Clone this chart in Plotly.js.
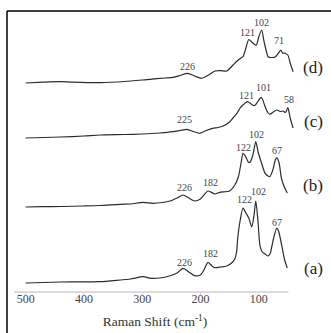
<!DOCTYPE html>
<html>
<head>
<meta charset="utf-8">
<script src="https://cdn.plot.ly/plotly-3.0.1.min.js"></script>
<style>
html,body{margin:0;padding:0;background:#fff;}
#chart{width:331px;height:333px;}
</style>
</head>
<body>
<div id="chart"></div>
<script>
// Raman shift (cm-1) and relative intensity for each spectrum
const shiftA = [500,470,440,400,372,338,320,298,285,270,252,240,230,220,210,200,194,187,180,176,165,155,147,141,138,136,132,127,122,117,112,108,105,101,98,94,89,84,80,77,73,69,66,62,58,55,51];
const intA   = [0,0.5,1,1.2,1.3,3,4,6.3,4.7,5,7.3,10,14.7,11,7.3,8,13,20.7,17,15.3,16,17,19.7,24,31,45,62,75,70,65,56,68,82,60,38,31,29,27,30,38,48,55,52,42,30,22,15];

const shiftB = [500,470,440,400,372,338,320,298,282,265,252,240,230,220,210,200,187,175,167,150,141,135,130,127,122,118,115,110,105,101,95,89,84,81,77,75,72,69,65,61,56,51];
const intB   = [0,0.3,0.5,1,1.5,2.7,3,4.7,3.7,4.5,6,9,12,9,6,8,16,13,14.7,16,22,30,45,53.7,50,45,44.7,52,65.3,55,43.7,33.7,31,30.3,35,38.7,46,49.3,44,28.7,20,14];

const shiftC = [500,470,440,400,372,330,300,270,247,235,223,212,201,190,179,170,161,150,144,137,132,127,122,119,113,107,102,98,95,90,85,81,75,69,63,58,54,50,46,41];
const intC   = [0,0.5,1,2,3,3.5,4,5,6.3,7.5,8.7,6.5,4.7,7.5,9.7,10.5,12,16,20,25,30,33,35.5,36.3,34,32.3,36,39.5,40.3,33,26,23.7,26,28,26.5,27,25.5,30.3,20,10];

const shiftD = [500,470,441,420,372,330,287,260,247,235,222,210,198,186,175,165,155,144,137,131,127,122,117,112,107,104,100,95,91,87,84,78,72,66,62,59,55,50,46,41];
const intD   = [0,0.8,1.3,0.8,0.3,1.5,3.7,5,5.7,7.5,9.7,7,4.7,8,12,12.3,12,18,22,24.7,26.3,35,43.5,41,38.5,38,46,53,42,32,26.3,25.5,26,30,33,30,29.7,28,20,11.3];

// vertical stacking offsets of the spectra
const offsets = {a: 9, b: 85, c: 154, d: 209};
const seriesNames = ['(a)', '(b)', '(c)', '(d)'];

// peak labels: [series, shift, text]
const peakSeries = ['d','d','d','d','c','c','c','c','b','b','b','b','b','a','a','a','a','a'];
const peakShift  = [221.5,118.6,94.6,65.5,226.7,120.3,92,48,227.9,182.6,126,103.2,68,226.7,182.6,124,100.5,68.9];
const peakY      = [226,260,270,252,173,197,205,193,104.7,109.7,145,158,142,29.7,38.7,93,101,70];
const peakText   = ['226','121','102','71','225','121','101','58','226','182','122','102','67','226','182','122','102','67'];

const xTicks = [500,400,300,200,100];

const lineStyle = {color: '#2b2b2b', width: 1.2, shape: 'spline', smoothing: 0.7};
function mk(x, y, off, name) {
  return {x: x, y: y.map(v => v + off), type: 'scatter', mode: 'lines', line: lineStyle, name: name, hoverinfo: 'skip'};
}
const traces = [
  mk(shiftA, intA, offsets.a, '(a)'),
  mk(shiftB, intB, offsets.b, '(b)'),
  mk(shiftC, intC, offsets.c, '(c)'),
  mk(shiftD, intD, offsets.d, '(d)')
];

const serif = 'Liberation Serif';
const annotations = peakText.map((t, i) => ({
  x: peakShift[i], y: peakY[i], xref: 'x', yref: 'y', text: t, showarrow: false,
  font: {family: serif, size: 10, color: '#444'}, xanchor: 'center', yanchor: 'middle'
}));
const letterY = [268, 185, 122, 67];
seriesNames.forEach((n, i) => {
  annotations.push({
    x: (313 - 14) / 282, y: (292 - letterY[i]) / 281, xref: 'paper', yref: 'paper', text: n,
    showarrow: false, font: {family: serif, size: 17, color: '#222'}, xanchor: 'center', yanchor: 'middle'
  });
});

const layout = {
  width: 331, height: 333,
  margin: {l: 14, r: 35, t: 11, b: 41},
  paper_bgcolor: '#fff', plot_bgcolor: '#fff',
  showlegend: false,
  font: {family: serif},
  xaxis: {
    range: [520, 36], tickvals: xTicks, ticktext: xTicks.map(String),
    showline: false, zeroline: false, showgrid: false,
    ticks: 'outside', ticklen: 2, tickcolor: '#cfcfcf', tickwidth: 1,
    ticklabelstandoff: -6,
    tickfont: {family: serif, size: 12, color: '#444'},
    title: {text: 'Raman Shift (cm<sup>-1</sup>)', font: {family: serif, size: 13.5, color: '#333'}, standoff: 11}
  },
  yaxis: {range: [0, 281], visible: false, showgrid: false, zeroline: false},
  annotations: annotations,
  shapes: [
    {type: 'line', xref: 'x', yref: 'paper', x0: 520, x1: 49, y0: 0, y1: 0, line: {color: '#cfcfcf', width: 1.5}},
    {type: 'line', xref: 'paper', yref: 'paper', x0: -7/282, x1: 1.2, y0: 1, y1: 1, line: {color: '#000', width: 1.5}},
    {type: 'line', xref: 'paper', yref: 'paper', x0: -7/282, x1: -7/282, y0: 1, y1: -0.2, line: {color: '#000', width: 1.5}}
  ]
};
Plotly.newPlot('chart', traces, layout, {staticPlot: true, displayModeBar: false});
</script>
</body>
</html>
